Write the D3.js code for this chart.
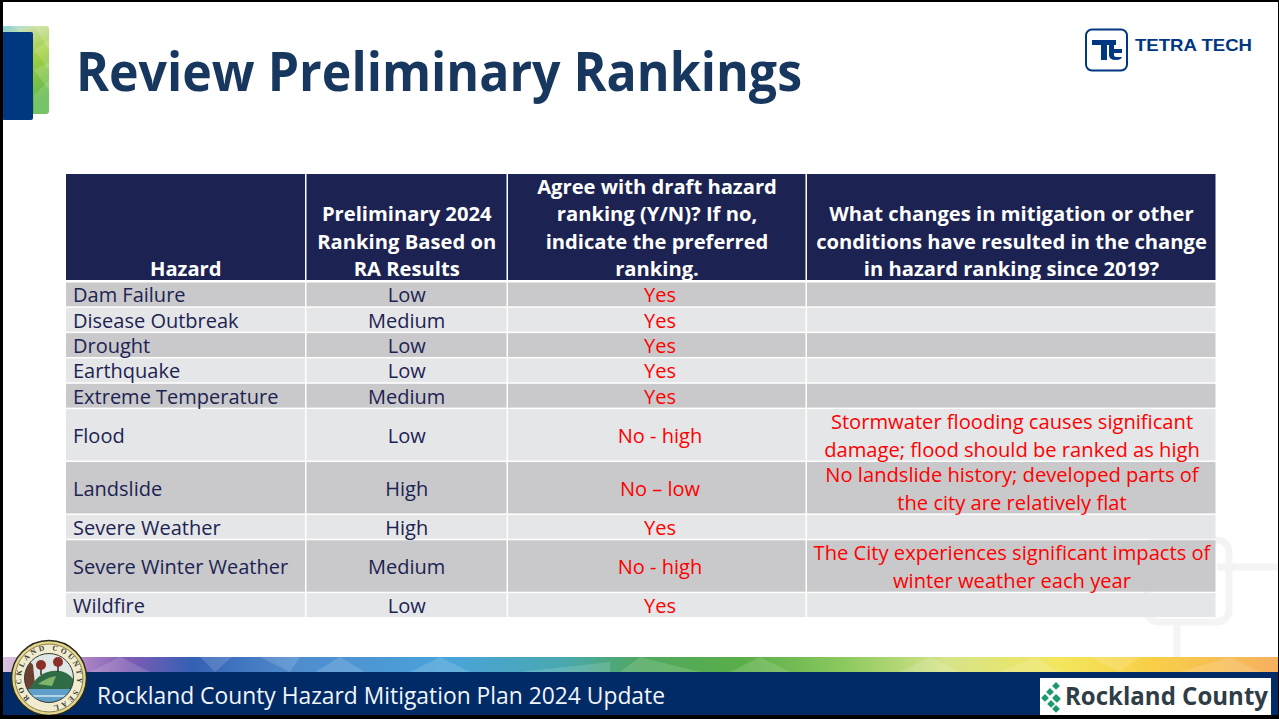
<!DOCTYPE html>
<html>
<head>
<meta charset="utf-8">
<style>
html, body { margin: 0; padding: 0; background: #fff; overflow: hidden; }
svg { display: block; font-family: "Open Sans", "Noto Sans", sans-serif; }
</style>
<script src="https://cdn.jsdelivr.net/npm/d3@7"></script>
</head>
<body>
<svg width="1279" height="719"></svg>
<script>
// table content
var headers = [
	["Hazard"],
	["Preliminary 2024", "Ranking Based on", "RA Results"],
	["Agree with draft hazard", "ranking (Y/N)? If no,", "indicate the preferred", "ranking."],
	["What changes in mitigation or other", "conditions have resulted in the change", "in hazard ranking since 2019?"]
];
var hazards = ["Dam Failure", "Disease Outbreak", "Drought", "Earthquake", "Extreme Temperature", "Flood", "Landslide", "Severe Weather", "Severe Winter Weather", "Wildfire"];
var rankings = ["Low", "Medium", "Low", "Low", "Medium", "Low", "High", "High", "Medium", "Low"];
var agrees = ["Yes", "Yes", "Yes", "Yes", "Yes", "No - high", "No – low", "Yes", "No - high", "Yes"];
var changes = [
	[], [], [], [], [],
	["Stormwater flooding causes significant", "damage; flood should be ranked as high"],
	["No landslide history; developed parts of", "the city are relatively flat"],
	[],
	["The City experiences significant impacts of", "winter weather each year"],
	[]
];
var stripStops = [[0, "#dcc4e0"], [0.06, "#b48cc8"], [0.1, "#7f5cb4"], [0.15, "#3560b4"], [0.23, "#4f8ccd"], [0.35, "#4aa3da"], [0.44, "#4aa8b0"], [0.5, "#4fa860"], [0.58, "#5aae48"], [0.66, "#8cc860"], [0.74, "#d6e48a"], [0.83, "#f3e65c"], [0.9, "#f8cf47"], [1, "#f6b060"]];
var stripFacets = [
	"200,657 215,672 232,657", "120,657 150,672 90,672", "260,657 290,672 300,657",
	"340,657 365,672 315,672", "440,657 470,672 410,672", "520,672 610,662 610,672",
	"640,657 700,672 620,672", "760,657 790,672 730,672", "930,657 960,672 900,672",
	"1000,672 1035,657 1060,672", "1120,672 1090,657 1140,657", "1180,672 1230,657 1260,672"
];
var tileFacets = ["34,26 49,26 49,50", "34,50 49,40 49,70", "34,70 49,62 49,90", "34,95 49,80 49,114 34,114", "10,26 34,26 20,32"];

var svg = d3.select("svg");
var defs = svg.append("defs");

// background decoration behind the table
var mark = svg.append("g").attr("fill", "none").attr("stroke", "#f4f4f4").attr("stroke-width", 7);
mark.append("rect").attr("x", 1147).attr("y", 540).attr("width", 82).attr("height", 82).attr("rx", 12);
mark.append("path").attr("d", "M1217 567H1279M1177 625V657");

// title block
var tile = defs.append("linearGradient").attr("id", "tile").attr("x1", 0).attr("y1", 0).attr("x2", 0.3).attr("y2", 1);
tile.append("stop").attr("offset", 0).attr("stop-color", "#7fd0e4");
tile.append("stop").attr("offset", 0.2).attr("stop-color", "#c8dfa0");
tile.append("stop").attr("offset", 0.5).attr("stop-color", "#a5d040");
tile.append("stop").attr("offset", 1).attr("stop-color", "#5cb84c");
svg.append("rect").attr("x", 2).attr("y", 26).attr("width", 47).attr("height", 88).attr("rx", 3).attr("fill", "url(#tile)");
svg.append("g").attr("fill", "#fff").attr("fill-opacity", 0.16).selectAll("polygon").data(tileFacets).enter().append("polygon").attr("points", function(d) { return d; });
svg.append("rect").attr("x", 2).attr("y", 32).attr("width", 31).attr("height", 88).attr("rx", 2).attr("fill", "#003781");

svg.append("text").attr("x", 76).attr("y", 91)
	.attr("font-size", 53).attr("font-weight", 700).attr("fill", "#17375f")
	.attr("textLength", 726).attr("lengthAdjust", "spacingAndGlyphs")
	.text("Review Preliminary Rankings");

// Tetra Tech logo
var logo = svg.append("g").attr("fill", "#003781");
logo.append("rect").attr("x", 1086).attr("y", 29.5).attr("width", 41).attr("height", 41).attr("rx", 6)
	.attr("fill", "none").attr("stroke", "#003781").attr("stroke-width", 2);
logo.append("path").attr("d", "M1092 40H1116V45H1107V60H1101V45H1092Z");
logo.append("path").attr("d", "M1109 44H1114V49H1122V53H1114V55Q1114 57 1117 57H1122Q1121 60 1116 60Q1109 60 1109 55Z");
logo.append("text").attr("x", 1135).attr("y", 51).attr("font-size", 16.5).attr("font-weight", 700)
	.attr("font-family", "'Liberation Sans', sans-serif")
	.attr("textLength", 117).attr("lengthAdjust", "spacingAndGlyphs").text("TETRA TECH");

// table
var colEdges = [66, 306.5, 508, 807, 1217];
var col = d3.scaleOrdinal().domain(d3.range(4)).range(colEdges.slice(0, 4));
var colW = function(i) { return colEdges[i + 1] - colEdges[i]; };
var colMid = function(i) { return col(i) + colW(i) / 2; };

var headTop = 174, headBottom = 280;
var rowStart = [0];
changes.forEach(function(c) { rowStart.push(rowStart[rowStart.length - 1] + (c.length > 1 ? 2.09 : 1)); });
var y = d3.scaleLinear().domain([0, rowStart[rowStart.length - 1]]).range([282.5, 618.5]);

var head = svg.append("g");
headers.forEach(function(lines, i) {
	head.append("rect").attr("x", col(i)).attr("y", headTop).attr("width", colW(i) - 1.5).attr("height", headBottom - headTop).attr("fill", "#1c2352");
	head.append("text").attr("text-anchor", "middle").attr("fill", "#fff")
		.attr("font-size", 20.2).attr("font-weight", 700)
		.selectAll("tspan").data(lines).enter().append("tspan")
		.attr("x", colMid(i) - 0.5)
		.attr("y", function(d, k) { return 276 - (lines.length - 1 - k) * 27.3; })
		.text(function(d) { return d; });
});

var rows = svg.selectAll("g.row").data(hazards).enter().append("g").attr("class", "row");

rows.each(function(d, r) {
	var g = d3.select(this);
	var top = y(rowStart[r]), bottom = y(rowStart[r + 1]);
	var mid = (top + bottom) / 2 + 7.3;
	d3.range(4).forEach(function(i) {
		g.append("rect").attr("x", col(i)).attr("y", top).attr("width", colW(i) - 1.5).attr("height", bottom - top - 1.5)
			.attr("fill", r % 2 ? "#e5e6e8" : "#c9c9cb");
	});
	g.append("text").attr("x", col(0) + 7).attr("y", mid).attr("font-size", 20).attr("fill", "#1c2352").text(d);
	g.append("text").attr("x", colMid(1) - 0.5).attr("y", mid).attr("font-size", 20).attr("text-anchor", "middle").attr("fill", "#1c2352").text(rankings[r]);
	g.append("text").attr("x", colMid(2) + 2.5).attr("y", mid).attr("font-size", 20).attr("text-anchor", "middle").attr("fill", "#fe0000").text(agrees[r]);
	var t = g.append("text").attr("text-anchor", "middle").attr("fill", "#fe0000").attr("font-size", 20.15);
	t.selectAll("tspan").data(changes[r]).enter().append("tspan")
		.attr("x", colMid(3))
		.attr("y", function(l, k) { return top + 19.5 + k * 28; })
		.text(function(l) { return l; });
});

// footer
var strip = defs.append("linearGradient").attr("id", "strip");
stripStops.forEach(function(s) {
	strip.append("stop").attr("offset", s[0]).attr("stop-color", s[1]);
});
svg.append("rect").attr("x", 0).attr("y", 657).attr("width", 1279).attr("height", 16).attr("fill", "url(#strip)");
svg.append("g").attr("fill", "#fff").attr("fill-opacity", 0.14).selectAll("polygon").data(stripFacets).enter().append("polygon").attr("points", function(d) { return d; });
svg.append("rect").attr("x", 0).attr("y", 672).attr("width", 1279).attr("height", 44).attr("fill", "#002b66");
svg.append("text").attr("x", 97).attr("y", 704).attr("font-size", 23.5).attr("fill", "#f2f5fa")
	.attr("textLength", 568).attr("lengthAdjust", "spacingAndGlyphs")
	.text("Rockland County Hazard Mitigation Plan 2024 Update");

// county seal
var seal = svg.append("g");
seal.append("circle").attr("cx", 49).attr("cy", 678).attr("r", 37.5).attr("fill", "#e3d58a").attr("stroke", "#2a2a20").attr("stroke-width", 1.5);
seal.append("circle").attr("cx", 49).attr("cy", 678).attr("r", 34).attr("fill", "#f1ecd0").attr("stroke", "#8a8150");
defs.append("clipPath").attr("id", "sealClip").append("circle").attr("cx", 49).attr("cy", 678).attr("r", 24.5);
defs.append("path").attr("id", "sealRing").attr("d", "M49 706A28 28 0 1 1 49.1 706");
seal.append("text").attr("font-size", 7.5).attr("font-weight", 700).attr("font-family", "'Liberation Serif', serif").attr("fill", "#3a3a30")
	.append("textPath").attr("href", "#sealRing").attr("startOffset", "12%").attr("textLength", 150).text("ROCKLAND COUNTY SEAL");
var scene = seal.append("g").attr("clip-path", "url(#sealClip)");
scene.append("rect").attr("x", 24).attr("y", 653).attr("width", 50).attr("height", 50).attr("fill", "#dfe7e6");
scene.append("path").attr("d", "M24 655L33 665L36 695H24Z").attr("fill", "#6b4030");
scene.append("path").attr("d", "M30 688Q38 673 52 671Q66 669 74 680V690H30Z").attr("fill", "#2f6b45");
scene.append("path").attr("d", "M38 684Q46 678 56 676L52 686Z").attr("fill", "#7db36a");
scene.append("path").attr("d", "M24 689H74V703H24Z").attr("fill", "#5f9fc9");
scene.append("path").attr("d", "M30 696H68").attr("stroke", "#cfe3ef").attr("stroke-width", 1.5);
scene.append("path").attr("d", "M41 668V675M58 665V672").attr("stroke", "#3a2a20").attr("stroke-width", 1.5);
scene.append("circle").attr("cx", 41).attr("cy", 665).attr("r", 5).attr("fill", "#8a2f2a");
scene.append("circle").attr("cx", 58).attr("cy", 662).attr("r", 5).attr("fill", "#8a2f2a");
seal.append("circle").attr("cx", 49).attr("cy", 678).attr("r", 24.5).attr("fill", "none").attr("stroke", "#3a3a30");

// Rockland County logo
svg.append("rect").attr("x", 1040).attr("y", 678).attr("width", 231).attr("height", 37).attr("fill", "#fff");
svg.append("g").attr("fill", "#1c9a6c").selectAll("rect")
	.data(["a", "b", "c", "d", "e", "f", "g"]).enter().append("rect")
	.attr("width", 5.5).attr("height", 5.5)
	.attr("transform", function(d, i) {
		var px = [1056, 1050, 1056, 1045, 1051, 1057, 1056][i];
		var py = [682, 688, 694, 694, 700, 695, 705][i];
		return "translate(" + px + "," + py + ") rotate(45)";
	});
svg.append("text").attr("x", 1065).attr("y", 705).attr("font-size", 25).attr("font-weight", 700).attr("fill", "#2f3d46")
	.attr("textLength", 203).attr("lengthAdjust", "spacingAndGlyphs").text("Rockland County");

// screen capture frame
svg.append("rect").attr("x", 0).attr("y", 715).attr("width", 1279).attr("height", 4).attr("fill", "#000");
svg.append("rect").attr("x", 0).attr("y", 0).attr("width", 1279).attr("height", 2).attr("fill", "#000");
svg.append("rect").attr("x", 0).attr("y", 0).attr("width", 3).attr("height", 719).attr("fill", "#000");
svg.append("rect").attr("x", 1278).attr("y", 0).attr("width", 1).attr("height", 719).attr("fill", "#000");
</script>
</body>
</html>
